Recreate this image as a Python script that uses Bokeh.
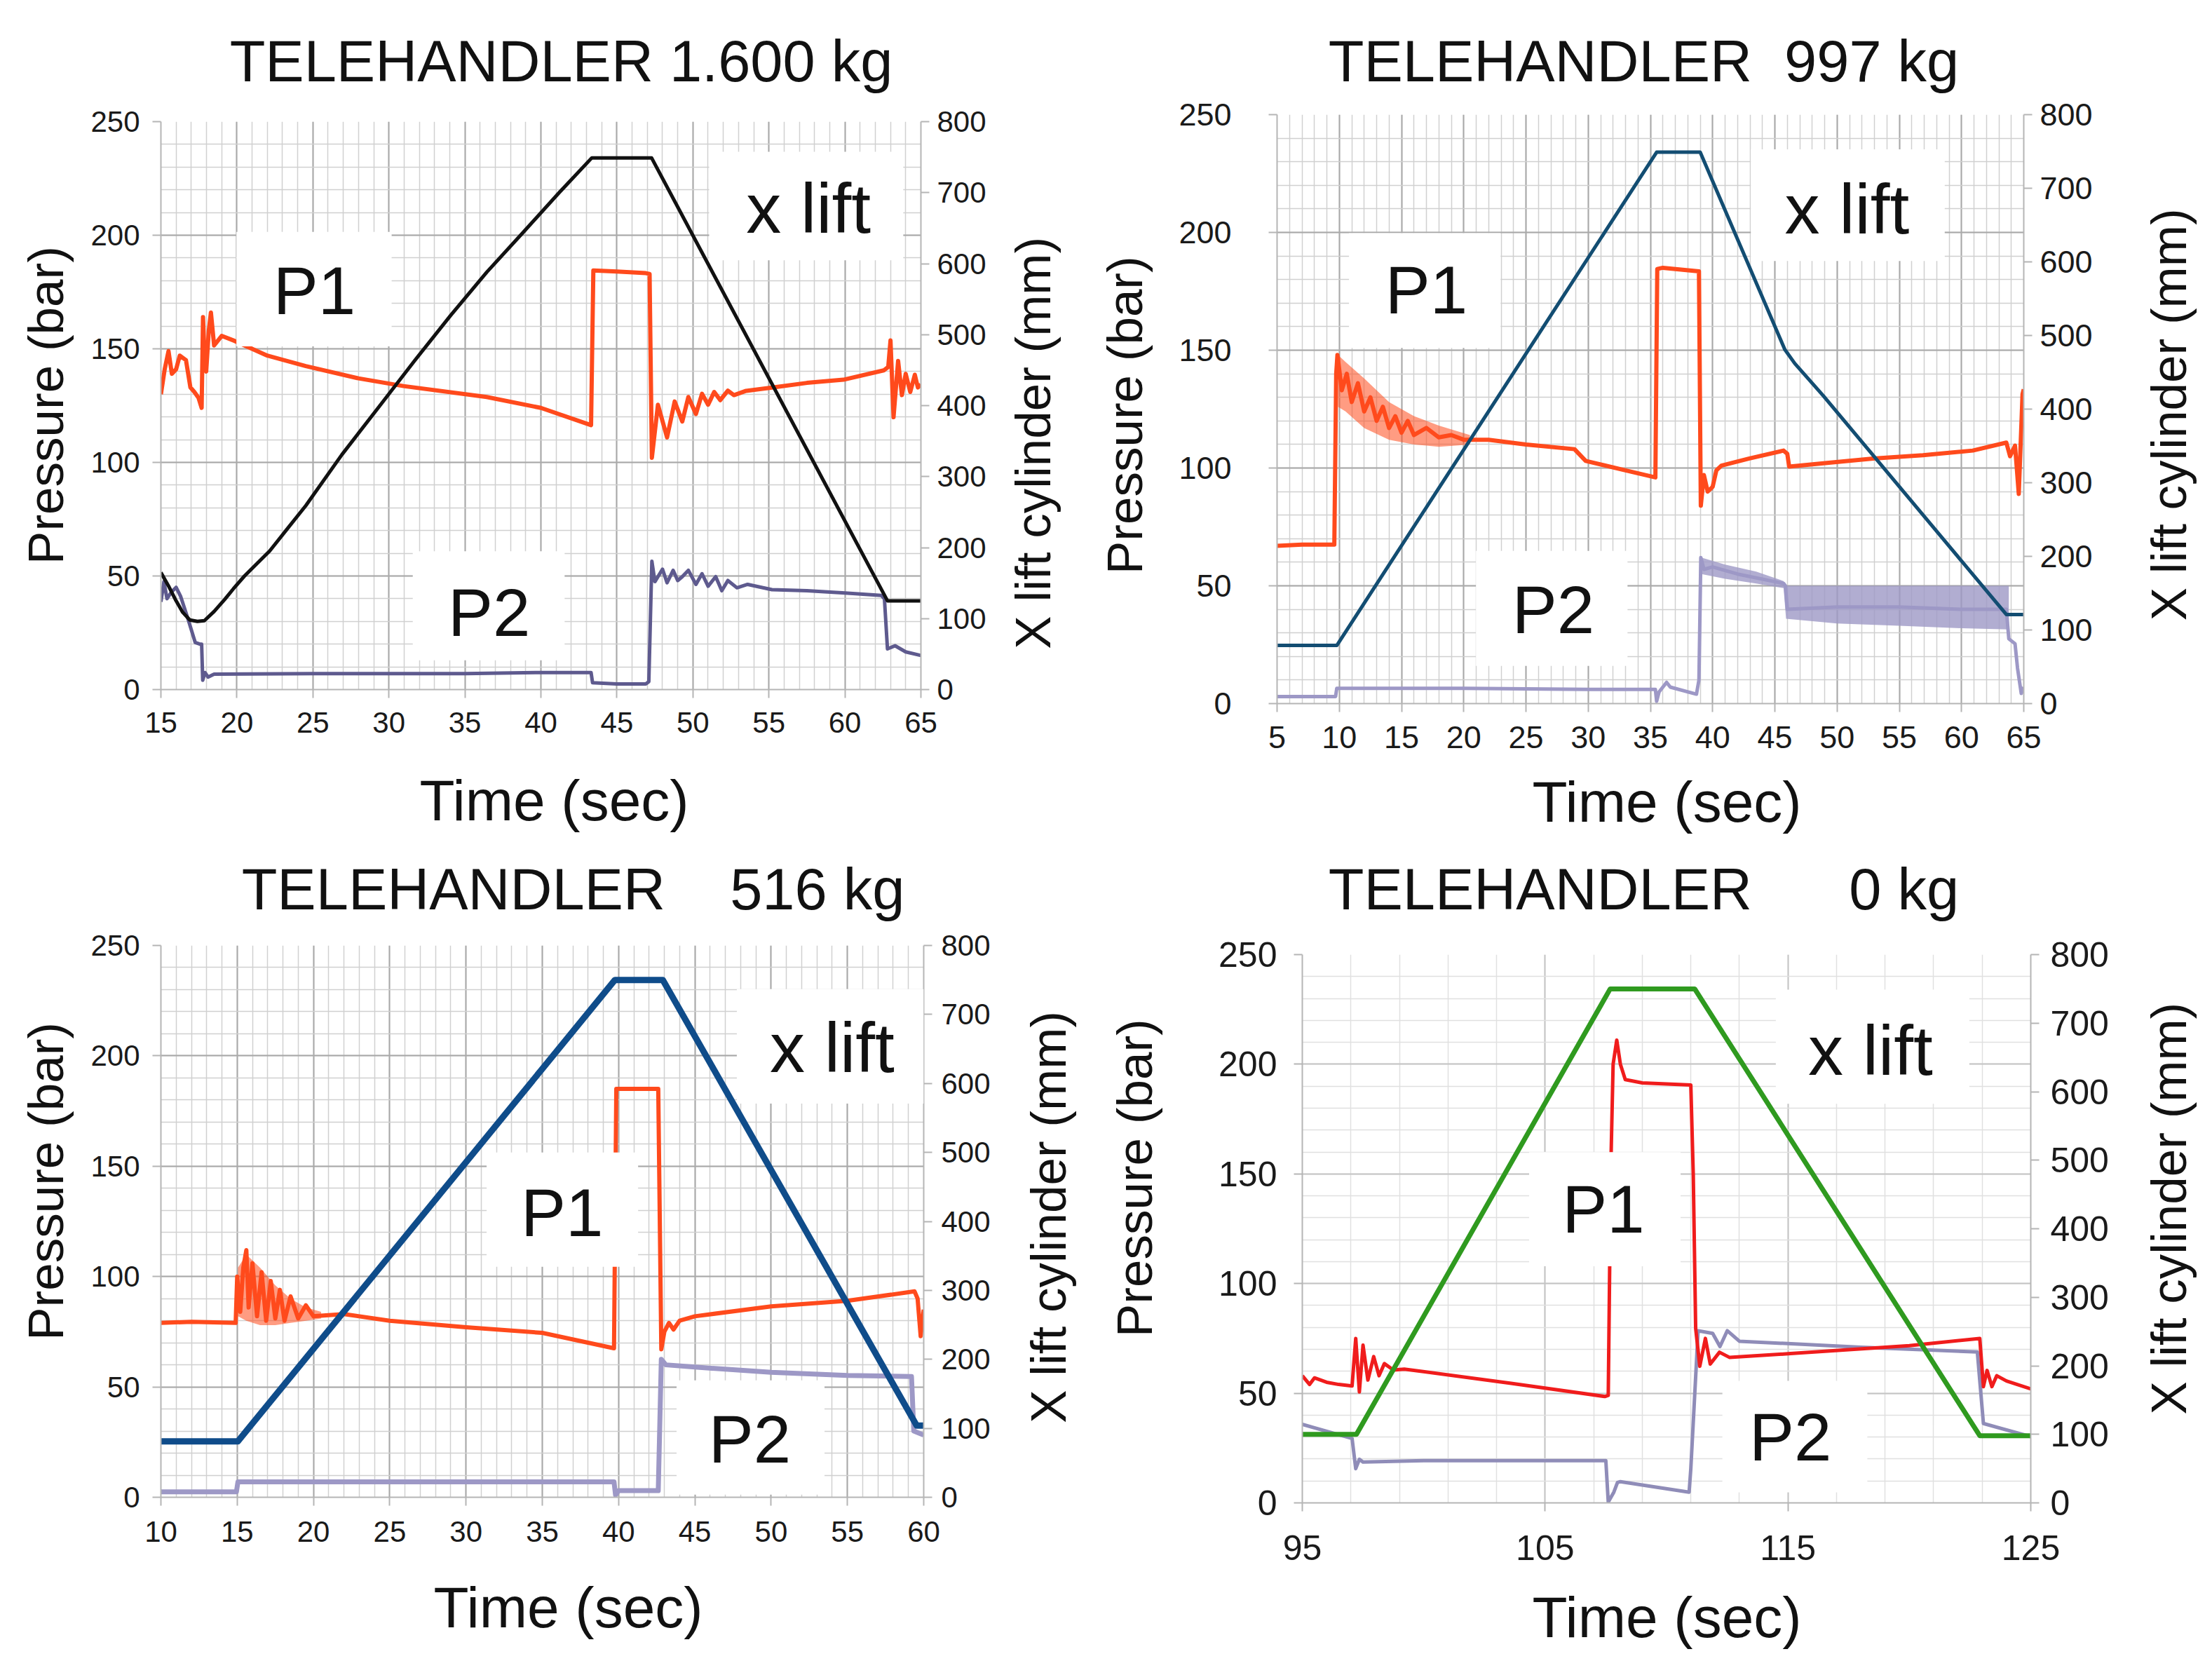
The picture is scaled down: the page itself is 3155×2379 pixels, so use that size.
import math
from bokeh.plotting import figure
from bokeh.layouts import row, column
from bokeh.models import Range1d, LinearAxis, FixedTicker, BoxAnnotation, Label
from bokeh.embed import file_html
from bokeh.resources import INLINE

FONT = "Liberation Sans"
NB = "\u00a0"

# ---------------- tick labels ----------------
Y_TICKS = [0, 50, 100, 150, 200, 250]
Y_MINOR = [0, 10, 20, 30, 40, 50, 60, 70, 80, 90, 100, 110, 120, 130, 140, 150,
           160, 170, 180, 190, 200, 210, 220, 230, 240, 250]
MM_TICKS = [0, 100, 200, 300, 400, 500, 600, 700, 800]
X1_TICKS = [15, 20, 25, 30, 35, 40, 45, 50, 55, 60, 65]
X2_TICKS = [5, 10, 15, 20, 25, 30, 35, 40, 45, 50, 55, 60, 65]
X3_TICKS = [10, 15, 20, 25, 30, 35, 40, 45, 50, 55, 60]
X4_TICKS = [95, 105, 115, 125]
X4_MINOR = [95, 97, 99, 101, 103, 105, 107, 109, 111, 113, 115, 117, 119, 121, 123, 125]

TITLES = ["TELEHANDLER 1.600 kg",
          "TELEHANDLER" + NB + " 997 kg",
          "TELEHANDLER" + NB + " " + NB + " 516 kg",
          "TELEHANDLER" + NB + " " + NB + " " + NB + " 0 kg"]
X_LABEL = "Time (sec)"
Y_LABEL = "Pressure (bar)"
Y2_LABEL = "X lift cylinder (mm)"

# ---------------- panel 1 : 1.600 kg ----------------
XL1_T = [15.0, 15.5, 15.95, 16.43, 16.9, 17.4, 17.86, 18.5, 19.2, 19.77, 20.5, 21.3, 22.15, 23.3, 24.53,
         26.91, 29.3, 31.68, 34.06, 36.44, 38.83, 41.2, 43.35, 47.28, 62.8, 65.0]
XL1_MM = [165, 146, 127, 109, 98, 96, 97, 110, 127, 142, 160, 177, 195, 226, 259,
          331, 397, 463, 527, 588, 644, 700, 749, 749, 125, 125]
P1_1_T = [15.0, 15.25, 15.5, 15.72, 16.0, 16.24, 16.65, 16.94, 17.2, 17.47, 17.68, 17.77, 17.9, 17.98, 18.15,
          18.29, 18.5, 19.0, 19.84, 22.0, 24.53, 28.0, 30.96, 36.44, 40.0, 43.3, 43.45, 45.0, 46.9, 47.15,
          47.3, 47.7, 48.3, 48.8, 49.3, 49.7, 50.2, 50.6, 51.0, 51.4, 51.8, 52.3, 52.7, 53.5, 55.3,
          57.5, 59.9, 62.55, 62.85, 63.0, 63.2, 63.5, 63.75, 64.0, 64.3, 64.6, 64.8, 65.0]
P1_1_V = [130, 141, 149, 139, 141, 147, 145, 133, 131, 128.5, 124, 164, 142, 140, 158,
          166, 151.5, 155.7, 153.5, 147, 142.4, 137, 133.6, 128.8, 124, 116.4, 184.5, 184, 183.3, 183,
          102, 125.4, 111, 126.8, 118, 128.8, 121.3, 130.2, 125.4, 131, 127.4, 131.6, 129.6, 131.5, 133,
          135, 136.4, 140.5, 142, 153.7, 119.9, 144.7, 129.6, 139, 131, 138.6, 133, 134.3]
P2_1_T = [15.0, 15.2, 15.4, 15.7, 16.0, 16.3, 16.75, 17.26, 17.56, 17.68, 17.75, 17.9, 18.1, 18.5, 25.0,
          30.0, 35.0, 40.0, 43.3, 43.4, 45.0, 46.9, 47.1, 47.3, 47.5, 48.0, 48.3, 48.7, 49.0, 49.3,
          49.7, 50.2, 50.6, 51.0, 51.5, 51.9, 52.3, 52.9, 53.6, 55.2, 57.5, 60.0, 62.4, 62.6, 62.8,
          63.3, 64.0, 65.0]
P2_1_V = [38.6, 47.5, 40, 43, 45, 41, 31.8, 20.7, 20, 20, 4.1, 7.5, 5.5, 6.8, 7,
          7, 7, 7.5, 7.5, 3, 2.5, 2.5, 3.5, 56.5, 47.5, 53, 47, 52.5, 48, 49.7,
          52.5, 46.3, 51, 45.5, 49.7, 43.5, 48, 44.8, 46.3, 44, 43.5, 42.5, 41.4, 40, 17.9,
          19.3, 16.6, 15]

# ---------------- panel 2 : 997 kg ----------------
XL2_T = [5.0, 9.8, 35.5, 39.0, 45.8, 46.6, 48.9, 63.6, 65.0]
XL2_MM = [79, 79, 749, 749, 481, 462, 418, 121, 121]
P1_2_T = [5.0, 7.0, 9.6, 9.75, 9.85, 10.2, 10.6, 11.0, 11.5, 12.0, 12.5, 13.0, 13.5, 14.0, 14.5,
          15.0, 15.5, 16.0, 17.0, 18.0, 19.0, 20.0, 22.0, 25.0, 28.9, 29.8, 33.0, 35.4, 35.55, 36.0,
          38.9, 39.05, 39.3, 39.6, 40.0, 40.3, 40.7, 42.9, 45.7, 46.0, 46.15, 48.9, 52.9, 56.9, 60.9,
          63.6, 63.9, 64.3, 64.6, 64.9, 65.0]
P1_2_V = [67, 67.5, 67.5, 140, 148, 133, 140, 128, 136, 124, 130, 120, 126, 117, 122,
          115, 120, 114, 117, 113, 114, 112, 112, 110, 108, 103, 99, 96, 184.5, 185,
          183.5, 84, 97, 90, 92, 99, 101, 104, 107.4, 106, 100.6, 102, 104, 105.4, 107.4,
          110.8, 105, 109.5, 89, 131.3, 133.4]
P1_2_BAND_T = [9.9, 10.5, 12.0, 14.0, 16.0, 18.0, 20.5]
P1_2_BAND_HI = [148, 145, 138, 128, 122, 118, 114]
P1_2_BAND_LO = [126, 124, 117, 112, 110, 109, 110]
P2_2_T = [5.0, 9.7, 9.8, 20.0, 30.0, 35.4, 35.5, 35.7, 36.3, 36.6, 38.7, 38.9, 39.05, 39.3, 40.0,
          42.0, 45.7, 45.85, 46.0, 50.0, 55.0, 60.0, 63.6, 63.8, 64.3, 64.5, 64.8, 65.0]
P2_2_V = [3, 3, 6.5, 6.5, 6, 6, 1, 5, 9, 7, 4, 10, 62, 57, 58,
          55, 51, 50, 40, 41, 41, 40, 40, 27.5, 25.4, 15, 4.3, 7]
P2_2_BAND_T = [39.1, 41.0, 43.5, 45.7, 45.9, 50.0, 55.0, 60.0, 63.8]
P2_2_BAND_HI = [62, 59, 56, 52, 50, 50, 50, 50, 50]
P2_2_BAND_LO = [55, 53, 51, 49, 36, 34, 33, 32, 31.5]

# ---------------- panel 3 : 516 kg ----------------
XL3_T = [10.0, 15.04, 39.76, 42.9, 59.54, 60.0]
XL3_MM = [81, 81, 750, 750, 104, 104]
P1_3_T = [10.0, 12.0, 14.9, 15.0, 15.2, 15.4, 15.6, 15.75, 16.0, 16.3, 16.6, 16.9, 17.2, 17.5, 17.8,
          18.1, 18.5, 19.0, 19.5, 20.0, 22.0, 25.0, 30.0, 35.0, 39.7, 39.85, 42.6, 42.8, 43.0, 43.3,
          43.6, 44.0, 45.0, 50.0, 55.0, 59.4, 59.6, 59.8, 60.0]
P1_3_V = [79, 79.5, 79, 100, 84, 104, 112, 86, 106, 82, 102, 80, 98, 81, 94,
          80, 91, 81, 87, 82, 83, 80, 77, 74.5, 67.5, 185, 185, 67, 75, 79,
          76, 80, 82, 86.5, 89, 93.3, 90, 73, 85]
P1_3_BAND_T = [15.05, 15.6, 16.5, 17.5, 18.5, 19.5, 20.5]
P1_3_BAND_HI = [104, 110, 104, 96, 90, 86, 84]
P1_3_BAND_LO = [82, 80, 78, 78, 79, 80, 81]
P2_3_T = [10.0, 14.95, 15.05, 25.0, 39.7, 39.8, 40.0, 42.6, 42.8, 43.1, 45.0, 50.0, 55.0, 59.2, 59.35, 60.0]
P2_3_V = [2.5, 2.5, 7, 7, 7, 1, 3, 3, 62.5, 60, 59, 56.6, 55.2, 54.7, 30, 28.2]

# ---------------- panel 4 : 0 kg ----------------
XL4_T = [95.0, 97.23, 107.68, 111.16, 122.9, 125.0]
XL4_MM = [100, 100, 750, 750, 98, 98]
P1_4_T = [95.0, 95.3, 95.5, 96.0, 96.5, 97.05, 97.2, 97.35, 97.5, 97.7, 97.94, 98.16, 98.38, 98.75, 99.2,
          103.6, 107.46, 107.6, 107.7, 107.8, 107.95, 108.1, 108.3, 109.0, 111.0, 111.1, 111.2, 111.37, 111.6, 111.8,
          112.18, 112.6, 115.0, 120.0, 122.9, 123.05, 123.2, 123.4, 123.6, 124.0, 125.0]
P1_4_V = [58, 54, 57, 55, 54, 53.3, 75, 50.6, 71.9, 56, 66.7, 58, 63.5, 60.6, 61,
          54.5, 48.5, 49, 150, 200, 211, 200, 193, 191.5, 190.5, 150, 79.5, 62.3, 75, 63.3,
          68.7, 66.3, 68, 71.7, 75, 53, 60.4, 53, 58, 55.6, 52]
P2_4_T = [95.0, 97.05, 97.2, 97.35, 97.5, 100.0, 107.5, 107.6, 107.83, 107.98, 108.1, 110.93, 111.0, 111.3, 111.9,
          112.2, 112.5, 113.0, 118.0, 122.8, 123.05, 125.0]
P2_4_V = [35.8, 29.4, 15.6, 19.9, 18.6, 19.3, 19.3, 0.4, 4.9, 9.3, 9.7, 4.9, 15.6, 78.5, 77.3,
          71.3, 78.5, 73.7, 71, 68.8, 36.2, 30.2]


def text_fig(w, h, items):
    """A bare figure whose frame is its whole canvas; it only carries text labels.
    items: (x, y_from_top, text, size, angle) -- text centred on (x, y)."""
    f = figure(width=w, height=h, x_range=Range1d(0, w), y_range=Range1d(0, h),
               output_backend="svg", toolbar_location=None, min_border=0,
               x_axis_location=None, y_axis_location=None)
    f.outline_line_color = None
    f.background_fill_color = "white"
    f.border_fill_color = "white"
    for g in f.grid:
        g.visible = False
    for (x, y, txt, fs, ang) in items:
        f.add_layout(Label(x=x, y=h - y, text=txt, angle=ang, text_align="center",
                           text_baseline="middle", text_font=FONT,
                           text_font_size="%dpx" % fs, text_color="#111111"))
    return f


def main_fig(cfg, w, h, bl, bt, xl, p1, p2, bands):
    fx0, fy0, fx1, fy1 = cfg["frame"]
    fw, fh = fx1 - fx0, fy1 - fy0
    p = figure(width=w, height=h, x_range=Range1d(*cfg["xr"]), y_range=Range1d(0, 250),
               output_backend="svg", toolbar_location=None,
               min_border_left=bl, min_border_right=w - bl - fw,
               min_border_top=bt, min_border_bottom=h - bt - fh)
    p.extra_y_ranges = {"mm": Range1d(0, 800)}
    p.outline_line_color = None
    p.background_fill_color = "white"
    p.border_fill_color = "white"

    xt = FixedTicker(ticks=cfg["xticks"], minor_ticks=cfg["xminor"])
    yt = FixedTicker(ticks=Y_TICKS, minor_ticks=Y_MINOR)
    bax = p.below[0]
    lax = p.left[0]
    bax.ticker = xt
    lax.ticker = yt
    p.xgrid.ticker = xt
    p.ygrid.ticker = yt
    for g in (p.xgrid, p.ygrid):
        g.grid_line_color = cfg["gmaj"]
        g.grid_line_width = 2
        g.minor_grid_line_color = cfg["gmin"]
        g.minor_grid_line_width = 1.5

    rax = LinearAxis(y_range_name="mm", ticker=FixedTicker(ticks=MM_TICKS))
    p.add_layout(rax, "right")

    for ax in (bax, lax, rax):
        ax.axis_line_color = "#b5b5b5"
        ax.axis_line_width = 2
        ax.major_tick_line_color = "#b5b5b5"
        ax.major_tick_line_width = 2
        ax.major_tick_out = 12
        ax.major_tick_in = 0
        ax.minor_tick_line_color = None
        ax.major_label_text_font = FONT
        ax.major_label_text_font_size = "%dpx" % cfg["tick_fs"]
        ax.major_label_text_color = "#1a1a1a"
    bax.major_label_standoff = cfg["bstd"]
    lax.major_label_standoff = cfg["lstd"]
    rax.major_label_standoff = cfg["rstd"]

    c = cfg["colors"]
    lw = cfg["widths"]
    for (bt_, blo, bhi, key, alpha) in bands:
        p.varea(x=bt_, y1=blo, y2=bhi, fill_color=c[key], fill_alpha=alpha)
    p.line(p2[0], p2[1], line_color=c["p2"], line_width=lw["p2"], line_join="round")
    p.line(p1[0], p1[1], line_color=c["p1"], line_width=lw["p1"], line_join="round")
    p.line(xl[0], xl[1], line_color=c["xl"], line_width=lw["xl"], line_join="round", y_range_name="mm")

    for (l, r, b, t, tx, ty, txt, fs) in cfg["boxes"]:
        p.add_layout(BoxAnnotation(left=l, right=r, bottom=b, top=t, fill_color="white",
                                   fill_alpha=1.0, line_color=None))
        p.add_layout(Label(x=tx, y=ty, text=txt, text_align="center", text_baseline="middle",
                           text_font=FONT, text_font_size="%dpx" % fs, text_color="#111111"))
    return p


ROT_FS = 71
ROT_SHIFT = 33   # rotated labels render this much above their anchor


def panel(cfg, title, xl, p1, p2, bands):
    W, H = cfg["size"]
    top_h, bot_y, left_w, right_x = cfg["strips"]
    mid_h = bot_y - top_h
    fx0, fy0, fx1, fy1 = cfg["frame"]
    main = main_fig(cfg, right_x - left_w, mid_h, fx0 - left_w, fy0 - top_h, xl, p1, p2, bands)
    tx, ty = cfg["title_pos"]
    xx, xy = cfg["xlab_pos"]
    yx, yy = cfg["ylab_pos"]
    rx, ry = cfg["y2lab_pos"]
    top = text_fig(W, top_h, [(tx, ty, title, 83, 0)])
    bottom = text_fig(W, H - bot_y, [(xx, xy - bot_y, X_LABEL, 82, 0)])
    left = text_fig(left_w, mid_h, [(yx, yy - top_h + ROT_SHIFT, Y_LABEL, ROT_FS, math.pi / 2)])
    right = text_fig(W - right_x, mid_h,
                     [(rx - right_x, ry - top_h + ROT_SHIFT, Y2_LABEL, ROT_FS, math.pi / 2)])
    return column(top, row(left, main, right), bottom)


ORANGE = "#ff4a1c"

cfg1 = dict(size=(1557, 1208), frame=(229, 173, 1313, 983), strips=(140, 1075, 120, 1420),
            title_pos=(800, 87), xlab_pos=(790, 1141), ylab_pos=(65, 574), y2lab_pos=(1473, 636),
            xr=(15, 65), xticks=X1_TICKS, xminor=list(range(15, 66)),
            gmaj="#a8a8a8", gmin="#d0d0d0", tick_fs=42, bstd=20, lstd=18, rstd=11,
            colors=dict(p1=ORANGE, p2="#5e5a8e", xl="#111111"), widths=dict(p1=6, p2=5, xl=5),
            boxes=[(19.97, 30.18, 151.1, 201.5, 25.1, 175.7, "P1", 96),
                   (51.07, 63.84, 189.0, 236.7, 57.6, 212.0, "x lift", 100),
                   (31.57, 41.56, 12.9, 60.9, 36.6, 34.0, "P2", 96)])
cfg2 = dict(size=(1590, 1208), frame=(264, 163, 1329, 1003), strips=(135, 1099, 110, 1440),
            title_pos=(787, 87), xlab_pos=(820, 1143), ylab_pos=(47, 594), y2lab_pos=(1536, 593),
            xr=(5, 65), xticks=X2_TICKS, xminor=list(range(5, 66)),
            gmaj="#a8a8a8", gmin="#d0d0d0", tick_fs=45, bstd=20, lstd=53, rstd=11,
            colors=dict(p1=ORANGE, p2="#9d98c6", xl="#134d72", b1=ORANGE, b2="#9d98c6"),
            widths=dict(p1=6, p2=5, xl=5),
            boxes=[(10.78, 22.96, 151.0, 199.7, 17.0, 175.5, "P1", 96),
                   (43.07, 58.65, 187.9, 235.3, 50.8, 210.0, "x lift", 100),
                   (20.98, 33.16, 16.0, 64.8, 27.2, 40.0, "P2", 96)])
cfg3 = dict(size=(1557, 1163), frame=(229, 140, 1317, 927), strips=(110, 1020, 120, 1425),
            title_pos=(817, 60), xlab_pos=(810, 1084), ylab_pos=(65, 466), y2lab_pos=(1495, 525),
            xr=(10, 60), xticks=X3_TICKS, xminor=list(range(10, 61)),
            gmaj="#a8a8a8", gmin="#d0d0d0", tick_fs=42, bstd=22, lstd=18, rstd=13,
            colors=dict(p1=ORANGE, p2="#9d98c6", xl="#0f4c8a", b1=ORANGE),
            widths=dict(p1=6, p2=7, xl=9),
            boxes=[(31.35, 41.28, 104.4, 156.2, 36.3, 129.0, "P1", 96),
                   (47.75, 60.0, 178.4, 230.2, 54.0, 203.7, "x lift", 100),
                   (43.8, 53.5, 1.2, 53.0, 48.6, 26.5, "P2", 96)])
cfg4 = dict(size=(1590, 1163), frame=(300, 153, 1339, 935), strips=(115, 1050, 118, 1470),
            title_pos=(787, 60), xlab_pos=(820, 1098), ylab_pos=(61, 463), y2lab_pos=(1536, 515),
            xr=(95, 125), xticks=X4_TICKS, xminor=X4_MINOR,
            gmaj="#c4c4c4", gmin="#e0e0e0", tick_fs=50, bstd=34, lstd=24, rstd=16,
            colors=dict(p1="#f01c1c", p2="#8f8cb8", xl="#2f9a1f"),
            widths=dict(p1=5, p2=5, xl=7),
            boxes=[(104.34, 110.58, 107.9, 159.9, 107.4, 134.0, "P1", 96),
                   (114.5, 122.47, 182.0, 234.0, 118.4, 206.5, "x lift", 100),
                   (112.3, 118.27, 4.8, 55.6, 115.1, 30.2, "P2", 96)])

g1 = panel(cfg1, TITLES[0], (XL1_T, XL1_MM), (P1_1_T, P1_1_V), (P2_1_T, P2_1_V), [])
g2 = panel(cfg2, TITLES[1], (XL2_T, XL2_MM), (P1_2_T, P1_2_V), (P2_2_T, P2_2_V),
           [(P1_2_BAND_T, P1_2_BAND_LO, P1_2_BAND_HI, "b1", 0.55),
            (P2_2_BAND_T, P2_2_BAND_LO, P2_2_BAND_HI, "b2", 0.8)])
g3 = panel(cfg3, TITLES[2], (XL3_T, XL3_MM), (P1_3_T, P1_3_V), (P2_3_T, P2_3_V),
           [(P1_3_BAND_T, P1_3_BAND_LO, P1_3_BAND_HI, "b1", 0.55)])
g4 = panel(cfg4, TITLES[3], (XL4_T, XL4_MM), (P1_4_T, P1_4_V), (P2_4_T, P2_4_V), [])

layout = column(row(g1, g2), row(g3, g4))
open("out.html", "w").write(file_html(layout, INLINE))
